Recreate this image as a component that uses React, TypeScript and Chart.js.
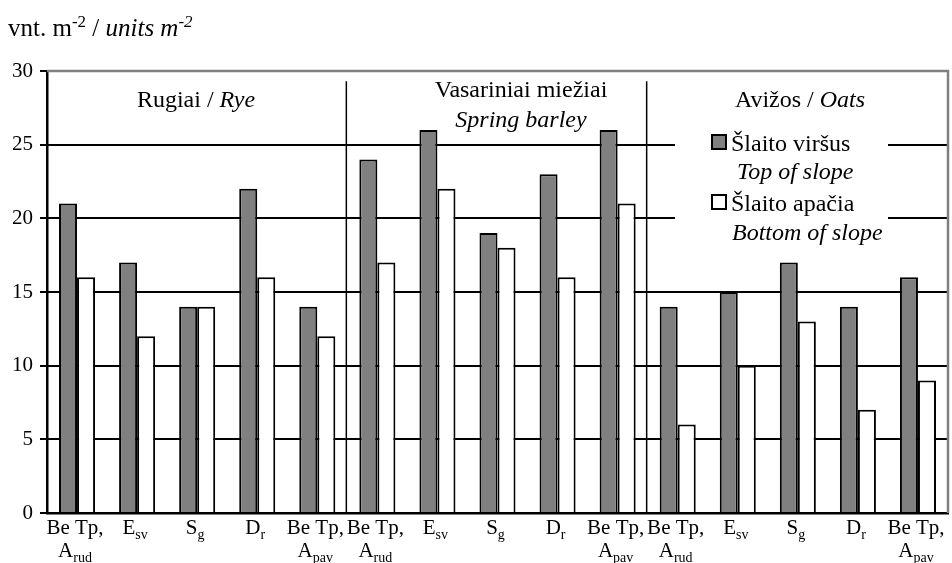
import React, { useEffect, useRef } from "react";
import { Chart, registerables } from "chart.js";
Chart.register(...registerables);

const categories = [
  "Be Tp,|A_rud", "E_sv", "S_g", "D_r", "Be Tp,|A_pav",
  "Be Tp,|A_rud", "E_sv", "S_g", "D_r", "Be Tp,|A_pav",
  "Be Tp,|A_rud", "E_sv", "S_g", "D_r", "Be Tp,|A_pav",
];
const topOfSlope = [21, 17, 14, 22, 14, 24, 26, 19, 23, 26, 14, 15, 17, 14, 16];
const bottomOfSlope = [16, 12, 14, 16, 12, 17, 22, 18, 16, 21, 6, 10, 13, 7, 9];
const seriesLt = ["Šlaito viršus", "Šlaito apačia"];
const seriesEn = ["Top of slope", "Bottom of slope"];
const groupLt = ["Rugiai / ", "Vasariniai miežiai", "Avižos / "];
const groupEn = ["Rye", "Spring barley", "Oats"];
const yMin = 0;
const yMax = 30;
const yStep = 5;

const FONT = '"Liberation Serif", "Times New Roman", serif';
const GRAY = "#808080";

type Run = { t: string; it?: boolean; sub?: boolean; sup?: boolean };

function drawRuns(ctx: CanvasRenderingContext2D, runs: Run[], x: number, y: number, size: number, align: "left" | "center", small = 0.62) {
  const fontOf = (r: Run) => {
    const s = r.sub || r.sup ? Math.round(size * small) : size;
    return `${r.it ? "italic " : ""}${s}px ${FONT}`;
  };
  let total = 0;
  for (const r of runs) {
    ctx.font = fontOf(r);
    total += ctx.measureText(r.t).width;
  }
  let cx = align === "center" ? x - total / 2 : x;
  ctx.textAlign = "left";
  ctx.textBaseline = "alphabetic";
  ctx.fillStyle = "#000";
  for (const r of runs) {
    ctx.font = fontOf(r);
    const dy = r.sub ? size * 0.22 : r.sup ? -size * 0.38 : 0;
    ctx.fillText(r.t, cx, y + dy);
    cx += ctx.measureText(r.t).width;
  }
}

function parseLabel(line: string): Run[] {
  const i = line.indexOf("_");
  if (i < 0) return [{ t: line }];
  return [{ t: line.slice(0, i) }, { t: line.slice(i + 1), sub: true }];
}

const decorPlugin = {
  id: "decor",
  beforeDatasetsDraw(chart: any) {
    const { ctx, chartArea, scales } = chart;
    const y = scales.y;
    const x = scales.x;
    ctx.save();
    ctx.strokeStyle = "#000";
    ctx.lineWidth = 2;
    for (let v = yMin + yStep; v < yMax; v += yStep) {
      const py = Math.round(y.getPixelForValue(v));
      ctx.beginPath();
      if (v >= 20) {
        ctx.moveTo(chartArea.left, py);
        ctx.lineTo(675, py);
        ctx.moveTo(888, py);
        ctx.lineTo(chartArea.right, py);
      } else {
        ctx.moveTo(chartArea.left, py);
        ctx.lineTo(chartArea.right, py);
      }
      ctx.stroke();
    }
    ctx.lineWidth = 1.5;
    for (const b of [4, 9]) {
      const px = (x.getPixelForValue(b) + x.getPixelForValue(b + 1)) / 2 - 1;
      ctx.beginPath();
      ctx.moveTo(px, y.getPixelForValue(29.3));
      ctx.lineTo(px, chartArea.bottom);
      ctx.stroke();
    }
    ctx.strokeStyle = GRAY;
    ctx.lineWidth = 2.5;
    ctx.beginPath();
    ctx.moveTo(chartArea.left, chartArea.top);
    ctx.lineTo(chartArea.right, chartArea.top);
    ctx.lineTo(chartArea.right, chartArea.bottom);
    ctx.stroke();
    ctx.restore();
  },
  afterDraw(chart: any) {
    const { ctx, scales } = chart;
    const x = scales.x;
    ctx.save();
    drawRuns(ctx, [
      { t: "vnt. m" }, { t: "-2", sup: true }, { t: " / " },
      { t: "units m", it: true }, { t: "-2", it: true, sup: true },
    ], 8, 36, 25, "left", 0.68);
    drawRuns(ctx, [{ t: groupLt[0] }, { t: groupEn[0], it: true }], 196, 107, 24, "center");
    drawRuns(ctx, [{ t: groupLt[1] }], 521, 97, 24, "center");
    drawRuns(ctx, [{ t: groupEn[1], it: true }], 521, 127, 24, "center");
    drawRuns(ctx, [{ t: groupLt[2] }, { t: groupEn[2], it: true }], 800, 107, 24, "center");
    const colors = [GRAY, "#fff"];
    const sqY = [135, 195];
    const ltY = [151, 211];
    const enY = [179, 240];
    const enX = [737, 732];
    for (let i = 0; i < 2; i++) {
      ctx.fillStyle = colors[i];
      ctx.fillRect(712, sqY[i], 14, 14);
      ctx.strokeStyle = "#000";
      ctx.lineWidth = 2;
      ctx.strokeRect(712, sqY[i], 14, 14);
      drawRuns(ctx, [{ t: seriesLt[i] }], 731, ltY[i], 24, "left");
      drawRuns(ctx, [{ t: seriesEn[i], it: true }], enX[i], enY[i], 24, "left");
    }
    categories.forEach((lab, i) => {
      const cx = x.getPixelForValue(i);
      const lines = lab.split("|");
      lines.forEach((ln, j) => {
        drawRuns(ctx, parseLabel(ln), cx - 2, j === 0 ? 534 : 557, 21, "center", 0.66);
      });
    });
    ctx.restore();
  },
};

export default function App() {
  const ref = useRef<HTMLCanvasElement>(null);
  useEffect(() => {
    if (!ref.current) return;
    const chart = new Chart(ref.current, {
      type: "bar",
      data: {
        labels: categories.map((c) => c.replace("|", " ")),
        datasets: [
          {
            label: seriesLt[0],
            data: topOfSlope,
            backgroundColor: GRAY,
            borderColor: "#000",
            borderWidth: 2,
            categoryPercentage: 0.6,
            barPercentage: 1,
          },
          {
            label: seriesLt[1],
            data: bottomOfSlope,
            backgroundColor: "#fff",
            borderColor: "#000",
            borderWidth: 2,
            categoryPercentage: 0.6,
            barPercentage: 1,
          },
        ],
      },
      options: {
        responsive: false,
        devicePixelRatio: 1,
        animation: false,
        layout: { padding: { left: 0, top: 71, right: 4, bottom: 50 } },
        plugins: { legend: { display: false }, tooltip: { enabled: false } },
        scales: {
          x: {
            grid: { display: false },
            ticks: { display: false },
            border: { color: "#000", width: 2.5 },
            afterFit: (s: any) => { s.height = 0; },
          },
          y: {
            min: yMin,
            max: yMax,
            ticks: { stepSize: yStep, color: "#000", font: { family: FONT, size: 21 }, padding: 7 },
            grid: { drawOnChartArea: false, drawTicks: true, tickLength: 7, color: "#000", lineWidth: 2 },
            border: { color: "#000", width: 2.5 },
            afterFit: (s: any) => { s.width = 47; },
          },
        },
      },
      plugins: [decorPlugin],
    } as any);
    return () => chart.destroy();
  }, []);
  return (
    <div style={{ position: "absolute", left: 0, top: 0, width: 952, height: 563, background: "#fff" }}>
      <canvas ref={ref} width={952} height={563} />
    </div>
  );
}
